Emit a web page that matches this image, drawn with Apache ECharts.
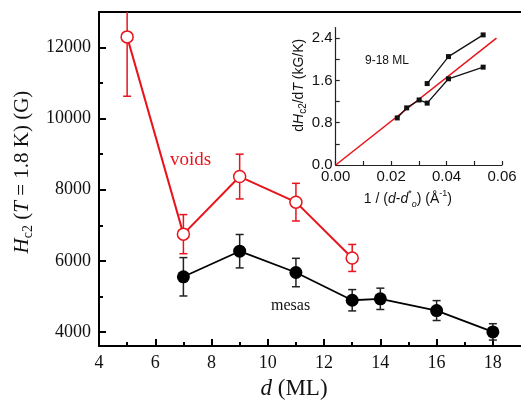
<!DOCTYPE html>
<html>
<head>
<meta charset="utf-8">
<script src="https://cdn.jsdelivr.net/npm/echarts@6/dist/echarts.min.js"></script>
<style>
  html, body { margin: 0; padding: 0; background: #fff; }
  #chart { width: 521px; height: 405px; }
</style>
</head>
<body>
<div id="chart"></div>
<script>
// Upper critical field Hc2 at T = 1.8 K versus film thickness d (monolayers)
const dVoids = [5, 7, 9, 11, 13];
const hVoids = [12300, 6750, 8370, 7650, 6080];
const errVoids = [1670, 550, 630, 530, 380];

const dMesas = [7, 9, 11, 13, 14, 16, 18];
const hMesas = [5550, 6270, 5670, 4890, 4930, 4600, 4000];
const errMesas = [540, 470, 400, 300, 300, 280, 230];

// Inset: dHc2/dT versus 1/(d - d0*)
const insetUpperX = [0.033, 0.0407, 0.0532];
const insetUpperY = [1.54, 2.05, 2.46];
const insetLowerX = [0.0222, 0.0256, 0.0301, 0.033, 0.0407, 0.0532];
const insetLowerY = [0.89, 1.08, 1.23, 1.17, 1.63, 1.85];
const fitX = [0, 0.058];
const fitY = [0, 2.40];

// Tick values
const mainXMajor = [4, 6, 8, 10, 12, 14, 16, 18];
const mainXMinor = [5, 7, 9, 11, 13, 15, 17];
const mainYMajor = [4000, 6000, 8000, 10000, 12000];
const mainYMinor = [5000, 7000, 9000, 11000];
const insetXMajor = [0, 0.02, 0.04, 0.06];
const insetXMinor = [0.01, 0.03, 0.05];
const insetYMajor = [0, 0.8, 1.6, 2.4];
const insetYMinor = [0.4, 1.2, 2.0];

const Y_MIN = 3600, Y_MAX = 13000;
const SERIF = 'Liberation Serif';
const SANS = 'Liberation Sans';
const RED = '#e8141c';

const zip = (xs, ys) => xs.map((x, i) => [x, ys[i]]);

function errorBars(xs, ys, es, color, width) {
  return {
    type: 'custom',
    xAxisIndex: 0, yAxisIndex: 0,
    silent: true,
    z: 1,
    data: xs.map((x, i) => [x, ys[i] - es[i], ys[i] + es[i]]),
    renderItem: function (params, api) {
      const x = api.value(0);
      const lo = Math.max(api.value(1), Y_MIN);
      const hi = Math.min(api.value(2), Y_MAX);
      const pLo = api.coord([x, lo]);
      const pHi = api.coord([x, hi]);
      const half = 4;
      const style = { stroke: color, lineWidth: width, fill: null };
      const children = [
        { type: 'line', shape: { x1: pLo[0], y1: pLo[1], x2: pHi[0], y2: pHi[1] }, style: style }
      ];
      if (api.value(1) >= Y_MIN) children.push({ type: 'line', shape: { x1: pLo[0] - half, y1: pLo[1], x2: pLo[0] + half, y2: pLo[1] }, style: style });
      if (api.value(2) <= Y_MAX) children.push({ type: 'line', shape: { x1: pHi[0] - half, y1: pHi[1], x2: pHi[0] + half, y2: pHi[1] }, style: style });
      return { type: 'group', children: children };
    }
  };
}

const chart = echarts.init(document.getElementById('chart'), null, { renderer: 'canvas' });

const mainTickLabel = { fontFamily: SERIF, fontSize: 18, color: '#111' };
const insetTickLabel = { fontFamily: SANS, fontSize: 15, color: '#111' };

chart.setOption({
  animation: false,
  backgroundColor: '#fff',
  grid: [
    { left: 99, top: 12, right: -4.4, bottom: 49, containLabel: false },
    { left: 335.7, top: 27.5, width: 166.3, height: 137.5, containLabel: false }
  ],
  xAxis: [
    { // main bottom axis, major ticks + labels
      type: 'value', gridIndex: 0, min: 4, max: 19, position: 'bottom',
      axisLine: { show: true, lineStyle: { color: '#000', width: 2 } },
      axisTick: { show: true, inside: true, length: 7, customValues: mainXMajor, lineStyle: { color: '#000', width: 2 } },
      axisLabel: { show: true, customValues: mainXMajor, margin: 8, formatter: v => String(v), ...mainTickLabel },
      splitLine: { show: false },
      name: '{i|d}{n| (ML)}', nameLocation: 'middle', nameGap: 30,
      nameTextStyle: {
        padding: [0, 32, 0, 0],
        rich: {
          i: { fontFamily: SERIF, fontSize: 23, fontStyle: 'italic', color: '#111' },
          n: { fontFamily: SERIF, fontSize: 23, color: '#111' }
        }
      }
    },
    { // main bottom axis, minor ticks
      type: 'value', gridIndex: 0, min: 4, max: 19, position: 'bottom',
      axisLine: { show: false },
      axisTick: { show: true, inside: true, length: 4, customValues: mainXMinor, lineStyle: { color: '#000', width: 2 } },
      axisLabel: { show: false }, splitLine: { show: false }
    },
    { // main top frame line
      type: 'value', gridIndex: 0, min: 4, max: 19, position: 'top',
      axisLine: { show: true, lineStyle: { color: '#000', width: 2 } },
      axisTick: { show: false }, axisLabel: { show: false }, splitLine: { show: false }
    },
    { // inset x axis
      type: 'value', gridIndex: 1, min: 0, max: 0.06, position: 'bottom',
      axisLine: { show: true, onZero: false, lineStyle: { color: '#222', width: 1.2 } },
      axisTick: { show: true, inside: true, length: 4, customValues: insetXMajor.concat(insetXMinor), lineStyle: { color: '#222', width: 1.2 } },
      axisLabel: { show: true, customValues: insetXMajor, margin: 4, formatter: v => v.toFixed(2), ...insetTickLabel },
      splitLine: { show: false },
      name: '{n|1 / (}{i|d}{n|-}{i|d}{sup|*}{subi|o}{n|) (Å}{sup|-1}{n|)}',
      nameLocation: 'middle', nameGap: 24,
      nameTextStyle: {
        padding: [0, 22, 0, 0],
        rich: {
          n: { fontFamily: SANS, fontSize: 14, color: '#111' },
          i: { fontFamily: SANS, fontSize: 14, fontStyle: 'italic', color: '#111' },
          sup: { fontFamily: SANS, fontSize: 9, color: '#111', verticalAlign: 'top', lineHeight: 20 },
          subi: { fontFamily: SANS, fontSize: 9, fontStyle: 'italic', color: '#111', verticalAlign: 'bottom', lineHeight: 20 }
        }
      }
    }
  ],
  yAxis: [
    { // main left axis, major ticks + labels
      type: 'value', gridIndex: 0, min: Y_MIN, max: Y_MAX, position: 'left',
      axisLine: { show: true, lineStyle: { color: '#000', width: 2 } },
      axisTick: { show: true, inside: true, length: 7, customValues: mainYMajor, lineStyle: { color: '#000', width: 2 } },
      axisLabel: { show: true, customValues: mainYMajor, margin: 8, formatter: v => String(v), ...mainTickLabel },
      splitLine: { show: false },
      name: '{i|H}{sub|c2}{n| (}{i|T}{n| = 1.8 K) (G)}',
      nameLocation: 'middle', nameGap: 62, nameRotate: 90,
      nameTextStyle: {
        padding: [0, 0, 0, 14],
        rich: {
          i: { fontFamily: SERIF, fontSize: 21, fontStyle: 'italic', color: '#111', lineHeight: 26 },
          n: { fontFamily: SERIF, fontSize: 21, color: '#111', lineHeight: 26 },
          sub: { fontFamily: SERIF, fontSize: 14, color: '#111', verticalAlign: 'bottom', lineHeight: 26 }
        }
      }
    },
    { // main left axis, minor ticks
      type: 'value', gridIndex: 0, min: Y_MIN, max: Y_MAX, position: 'left',
      axisLine: { show: false },
      axisTick: { show: true, inside: true, length: 4, customValues: mainYMinor, lineStyle: { color: '#000', width: 2 } },
      axisLabel: { show: false }, splitLine: { show: false }
    },
    { // inset y axis
      type: 'value', gridIndex: 1, min: 0, max: 2.6, position: 'left',
      axisLine: { show: true, onZero: false, lineStyle: { color: '#222', width: 1.2 } },
      axisTick: { show: true, inside: true, length: 4, customValues: insetYMajor.concat(insetYMinor), lineStyle: { color: '#222', width: 1.2 } },
      axisLabel: { show: true, customValues: insetYMajor, margin: 3, formatter: v => v.toFixed(1), ...insetTickLabel },
      splitLine: { show: false },
      name: '{n|d}{i|H}{sub|c2}{n|/d}{i|T}{n| (kG/K)}',
      nameLocation: 'middle', nameGap: 20, nameRotate: 90,
      nameTextStyle: {
        padding: [0, 0, 0, 22],
        rich: {
          n: { fontFamily: SANS, fontSize: 14, color: '#111', lineHeight: 18 },
          i: { fontFamily: SANS, fontSize: 14, fontStyle: 'italic', color: '#111', lineHeight: 18 },
          sub: { fontFamily: SANS, fontSize: 10, color: '#111', verticalAlign: 'bottom', lineHeight: 18 }
        }
      }
    }
  ],
  series: [
    errorBars(dVoids, hVoids, errVoids, RED, 1.5),
    errorBars(dMesas, hMesas, errMesas, '#222', 1.5),
    {
      name: 'voids', type: 'line', xAxisIndex: 0, yAxisIndex: 0,
      data: zip(dVoids, hVoids),
      symbol: 'circle', symbolSize: 12, showSymbol: true,
      lineStyle: { color: RED, width: 2 },
      itemStyle: { color: '#fff', borderColor: RED, borderWidth: 1.5 },
      z: 3
    },
    {
      name: 'mesas', type: 'line', xAxisIndex: 0, yAxisIndex: 0,
      data: zip(dMesas, hMesas),
      symbol: 'circle', symbolSize: 13, showSymbol: true,
      lineStyle: { color: '#000', width: 1.8 },
      itemStyle: { color: '#000', borderWidth: 0 },
      z: 3
    },
    {
      name: 'fit', type: 'line', xAxisIndex: 3, yAxisIndex: 2,
      data: zip(fitX, fitY), showSymbol: false,
      lineStyle: { color: RED, width: 1.5 }, z: 2
    },
    {
      name: 'inset upper', type: 'line', xAxisIndex: 3, yAxisIndex: 2,
      data: zip(insetUpperX, insetUpperY),
      symbol: 'rect', symbolSize: 5, showSymbol: true,
      lineStyle: { color: '#111', width: 1.3 }, itemStyle: { color: '#111' }, z: 3
    },
    {
      name: 'inset lower', type: 'line', xAxisIndex: 3, yAxisIndex: 2,
      data: zip(insetLowerX, insetLowerY),
      symbol: 'rect', symbolSize: 5, showSymbol: true,
      lineStyle: { color: '#111', width: 1.3 }, itemStyle: { color: '#111' }, z: 3
    }
  ],
  graphic: [
    { type: 'text', left: 170, top: 151, style: { text: 'voids', fontFamily: SERIF, fontSize: 19, fill: RED } },
    { type: 'text', left: 271, top: 298, style: { text: 'mesas', fontFamily: SERIF, fontSize: 16, fill: '#111' } },
    { type: 'text', left: 365, top: 55, style: { text: '9-18 ML', fontFamily: SANS, fontSize: 12, fill: '#111' } }
  ]
});
</script>
</body>
</html>
